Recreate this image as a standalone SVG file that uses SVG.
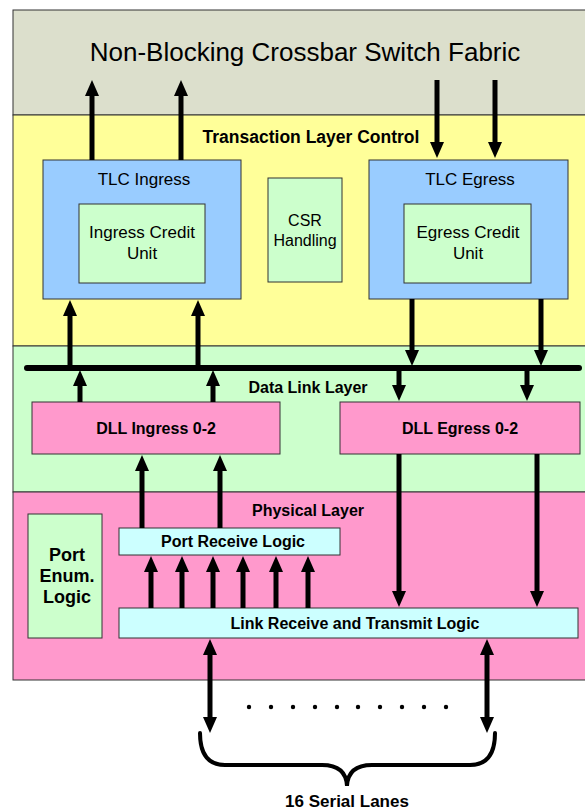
<svg xmlns="http://www.w3.org/2000/svg" width="585" height="810" viewBox="0 0 585 810">
<style>
.bd{stroke:#333;stroke-width:1}
.t{font-family:"Liberation Sans",Arial,sans-serif;text-anchor:middle;fill:#000}
.r17{font-size:17px}
.b16{font-size:16px;font-weight:bold}
.ar{stroke:#000;stroke-width:5;fill:none;marker-end:url(#ah)}
</style>
<defs>
<marker id="ah" markerUnits="userSpaceOnUse" markerWidth="18" markerHeight="16" refX="4" refY="7" orient="auto-start-reverse">
<path d="M0,0 L16,7 L0,14 z" fill="#000"/>
</marker>
</defs>
<rect width="585" height="810" fill="#fff"/>
<g id="layers">
<rect x="13" y="10" width="580" height="105" fill="#dcdfcc" class="bd"/>
<rect x="13" y="115" width="580" height="231" fill="#ffff99" class="bd"/>
<rect x="13" y="346" width="580" height="146" fill="#ccffcc" class="bd"/>
<rect x="13" y="492" width="580" height="188" fill="#ff99cc" class="bd"/>
<text x="305" y="61" class="t" style="font-size:26px">Non-Blocking Crossbar Switch Fabric</text>
<text x="311" y="143" class="t b16" style="font-size:17.5px">Transaction Layer Control</text>
<text x="308" y="393" class="t b16">Data Link Layer</text>
<text x="308" y="516" class="t b16">Physical Layer</text>
</g>
<g id="tlc-ingress">
<rect x="43" y="160" width="198" height="139" fill="#99ccff" class="bd"/>
<text x="144" y="185" class="t r17">TLC Ingress</text>
</g>
<g id="ingress-credit">
<rect x="79" y="204" width="126" height="79" fill="#ccffcc" class="bd"/>
<text x="142" y="238" class="t r17">Ingress Credit</text>
<text x="142" y="259" class="t r17">Unit</text>
</g>
<g id="csr">
<rect x="268" y="178" width="74" height="104" fill="#ccffcc" class="bd"/>
<text x="305" y="226" class="t" style="font-size:16px">CSR</text>
<text x="305" y="246" class="t" style="font-size:16px">Handling</text>
</g>
<g id="tlc-egress">
<rect x="369" y="160" width="199" height="139" fill="#99ccff" class="bd"/>
<text x="470" y="185" class="t r17">TLC Egress</text>
</g>
<g id="egress-credit">
<rect x="404" y="204" width="127" height="79" fill="#ccffcc" class="bd"/>
<text x="468" y="238" class="t r17">Egress Credit</text>
<text x="468" y="259" class="t r17">Unit</text>
</g>
<g id="dll-ingress">
<rect x="32" y="402" width="248" height="52" fill="#ff99cc" class="bd"/>
<text x="156" y="434" class="t b16">DLL Ingress 0-2</text>
</g>
<g id="dll-egress">
<rect x="340" y="402" width="240" height="52" fill="#ff99cc" class="bd"/>
<text x="460" y="434" class="t b16">DLL Egress 0-2</text>
</g>
<g id="port-enum">
<rect x="28" y="514" width="74" height="124" fill="#ccffcc" class="bd"/>
<text x="67" y="561" class="t b16" style="font-size:18px">Port</text>
<text x="67" y="582" class="t b16" style="font-size:18px">Enum.</text>
<text x="67" y="603" class="t b16" style="font-size:18px">Logic</text>
</g>
<g id="port-receive">
<rect x="119" y="528" width="221" height="27" fill="#ccffff" class="bd"/>
<text x="233" y="547" class="t b16">Port Receive Logic</text>
</g>
<g id="link-rt">
<rect x="119" y="608" width="459" height="30" fill="#ccffff" class="bd"/>
<text x="355" y="629" class="t b16">Link Receive and Transmit Logic</text>
</g>
<g id="connectors">
<line x1="27" y1="368" x2="579" y2="368" stroke="#000" stroke-width="6" stroke-linecap="round"/>
<line x1="92" y1="160" x2="92" y2="92" class="ar"/>
<line x1="181" y1="160" x2="181" y2="92" class="ar"/>
<line x1="437" y1="80" x2="437" y2="146" class="ar"/>
<line x1="495" y1="80" x2="495" y2="146" class="ar"/>
<line x1="70" y1="368" x2="70" y2="312" class="ar"/>
<line x1="198" y1="368" x2="198" y2="312" class="ar"/>
<line x1="412" y1="299" x2="412" y2="354" class="ar"/>
<line x1="541" y1="299" x2="541" y2="354" class="ar"/>
<line x1="80" y1="402" x2="80" y2="382" class="ar"/>
<line x1="213" y1="402" x2="213" y2="382" class="ar"/>
<line x1="399" y1="368" x2="399" y2="389" class="ar"/>
<line x1="527" y1="368" x2="527" y2="389" class="ar"/>
<line x1="142" y1="528" x2="142" y2="467" class="ar"/>
<line x1="220" y1="528" x2="220" y2="467" class="ar"/>
<line x1="399" y1="454" x2="399" y2="595" class="ar"/>
<line x1="537" y1="454" x2="537" y2="595" class="ar"/>
<line x1="151" y1="608" x2="151" y2="568" class="ar"/>
<line x1="182" y1="608" x2="182" y2="568" class="ar"/>
<line x1="213" y1="608" x2="213" y2="568" class="ar"/>
<line x1="243" y1="608" x2="243" y2="568" class="ar"/>
<line x1="276" y1="608" x2="276" y2="568" class="ar"/>
<line x1="308" y1="608" x2="308" y2="568" class="ar"/>
<line x1="210" y1="651" x2="210" y2="721" class="ar" marker-start="url(#ah)"/>
<line x1="487" y1="651" x2="487" y2="721" class="ar" marker-start="url(#ah)"/>
</g>
<g id="lanes">
<g fill="#000">
<circle cx="249" cy="707" r="2.2"/><circle cx="271" cy="707" r="2.2"/><circle cx="293" cy="707" r="2.2"/><circle cx="315" cy="707" r="2.2"/><circle cx="337" cy="707" r="2.2"/>
<circle cx="358" cy="707" r="2.2"/><circle cx="380" cy="707" r="2.2"/><circle cx="402" cy="707" r="2.2"/><circle cx="424" cy="707" r="2.2"/><circle cx="446" cy="707" r="2.2"/>
</g>
<path d="M200,733 Q200,765 225,765 L322,765 Q346,765 347,786 Q348,765 372,765 L470,765 Q495,765 495,733" fill="none" stroke="#000" stroke-width="4" stroke-linecap="round"/>
<text x="347" y="807" class="t b16" style="font-size:17px">16 Serial Lanes</text>
</g>
</svg>
